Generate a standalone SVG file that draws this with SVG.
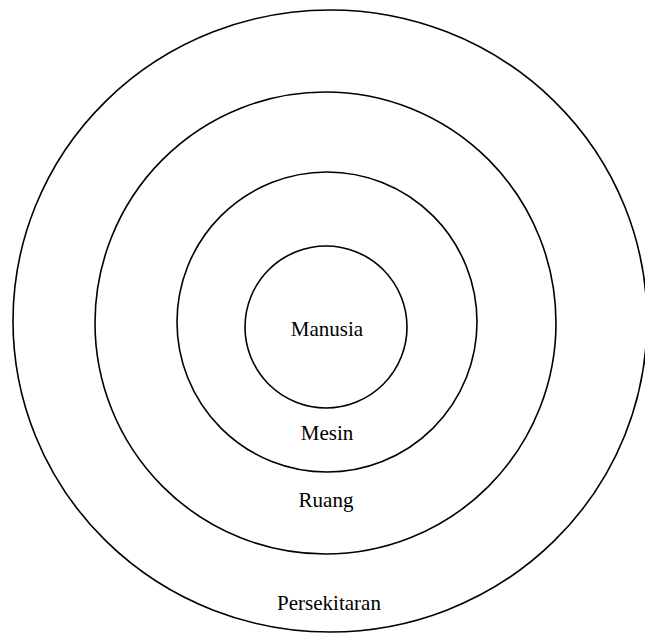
<svg xmlns="http://www.w3.org/2000/svg" width="645" height="633" viewBox="0 0 645 633">
<style>
.ring{fill:none;stroke:#000;stroke-width:1.6}
.lbl{font-family:"Liberation Serif","Times New Roman",serif;font-size:21px;fill:#000;text-anchor:middle}
</style>
<rect width="645" height="633" fill="#fff"/>
<g id="persekitaran">
<ellipse class="ring" cx="330" cy="321" rx="317" ry="311"/>
<text class="lbl" x="329" y="610">Persekitaran</text>
</g>
<g id="ruang">
<ellipse class="ring" cx="325.5" cy="323" rx="230.5" ry="231"/>
<text class="lbl" x="326" y="507">Ruang</text>
</g>
<g id="mesin">
<circle class="ring" cx="327" cy="322" r="150"/>
<text class="lbl" x="327" y="440">Mesin</text>
</g>
<g id="manusia">
<circle class="ring" cx="326" cy="327" r="81"/>
<text class="lbl" x="327" y="336">Manusia</text>
</g>
<g id="connectors"/>
</svg>
